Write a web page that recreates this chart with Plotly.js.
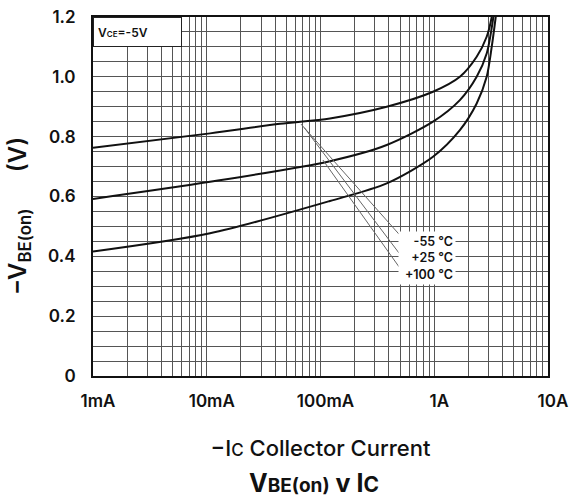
<!DOCTYPE html>
<html>
<head>
<meta charset="utf-8">
<script src="https://cdn.plot.ly/plotly-3.0.1.min.js"></script>
<style>html,body{margin:0;padding:0;background:#fff;}#chart{width:572px;height:498px;}</style>
</head>
<body>
<div id="chart"></div>
<script>
// Collector current (A) and -VBE(on) (V) for each temperature
const icM55 = [0.001, 0.0107, 0.044, 0.121, 0.382, 0.975, 1.68, 2.36, 2.89, 3.2, 3.4];
const vbeM55 = [0.763, 0.811, 0.843, 0.861, 0.900, 0.950, 1.000, 1.067, 1.134, 1.200, 1.28];
const icP25 = [0.001, 0.0107, 0.121, 0.382, 0.975, 1.68, 2.36, 2.89, 3.31, 3.5];
const vbeP25 = [0.592, 0.649, 0.718, 0.772, 0.850, 0.922, 1.000, 1.078, 1.200, 1.28];
const icP100 = [0.001, 0.0107, 0.121, 0.382, 0.975, 1.68, 2.36, 2.89, 3.2, 3.47, 3.65];
const vbeP100 = [0.416, 0.477, 0.585, 0.644, 0.733, 0.822, 0.911, 1.000, 1.100, 1.200, 1.27];

// leader lines from curves to the temperature labels
const leadM55X = [0.0674, 0.49];   const leadM55Y = [0.842, 0.474];
const leadP25X = [0.072, 0.49];    const leadP25Y = [0.830, 0.411];
const leadP100X = [0.105, 0.49];   const leadP100Y = [0.722, 0.365];

const tempLabels = ["-55 °C", "+25 °C", "+100 °C"];

// axis ticks
const xDecades = [0.001, 0.01, 0.1, 1, 10];
const xDecadeLabels = ["1mA", "10mA", "100mA", "1A", "10A"];
const yMajor = [0, 0.2, 0.4, 0.6, 0.8, 1.0, 1.2];
const yMajorLabels = ["0", "0.2", "0.4", "0.6", "0.8", "1.0", "1.2"];

// grid: every 1..9 per decade, every 0.05 V
const xTickVals = [], xTickText = [];
xDecades.forEach((d, i) => {
  for (let m = 1; m <= 9; m++) {
    const v = d * m;
    if (v > 10.0001) break;
    xTickVals.push(v);
    xTickText.push(m === 1 ? xDecadeLabels[i] : "");
  }
});
const yTickVals = [], yTickText = [];
for (let k = 0; k <= 24; k++) {
  const v = +(k * 0.05).toFixed(2);
  yTickVals.push(v);
  const j = yMajor.findIndex(t => Math.abs(t - v) < 1e-6);
  yTickText.push(j >= 0 ? yMajorLabels[j] : "");
}

const curveLine = {color: "#111", width: 2, shape: "spline", smoothing: 0.8};
const leadLine = {color: "#666", width: 1};
const traces = [
  {x: icM55, y: vbeM55, mode: "lines", line: curveLine, name: "-55 °C"},
  {x: icP25, y: vbeP25, mode: "lines", line: curveLine, name: "+25 °C"},
  {x: icP100, y: vbeP100, mode: "lines", line: curveLine, name: "+100 °C"},
  {x: leadM55X, y: leadM55Y, mode: "lines", line: leadLine, hoverinfo: "skip"},
  {x: leadP25X, y: leadP25Y, mode: "lines", line: leadLine, hoverinfo: "skip"},
  {x: leadP100X, y: leadP100Y, mode: "lines", line: leadLine, hoverinfo: "skip"}
];

const FONT = "Inter, 'Liberation Sans', Arial, sans-serif";
const layout = {
  width: 572, height: 498,
  margin: {l: 93, r: 24, t: 17, b: 122},
  paper_bgcolor: "#fff", plot_bgcolor: "#fff",
  showlegend: false,
  font: {family: FONT, color: "#111"},
  title: {
    text: "<b>V<span style='font-size:19px'>BE(on)</span> v I<span style='font-size:21px'>C</span></b>",
    font: {size: 25, family: FONT, color: "#111"},
    x: 0.549, xanchor: "center", y: 1 - 483 / 498, yanchor: "middle", yref: "container"
  },
  xaxis: {
    type: "log", range: [-3, 1],
    tickmode: "array", tickvals: xTickVals, ticktext: xTickText,
    ticks: "", ticklabelstandoff: 9, ticklabelshift: 5,
    tickfont: {size: 17, family: FONT, color: "#111", weight: 600},
    showgrid: true, gridcolor: "#555", gridwidth: 1,
    showline: true, linecolor: "#111", linewidth: 2, mirror: true,
    zeroline: false,
    title: {text: "−I<span style='font-size:17px'>C</span> Collector Current", font: {size: 22, family: FONT, color: "#111", weight: 500}, standoff: 30}
  },
  yaxis: {
    range: [0, 1.2],
    tickmode: "array", tickvals: yTickVals, ticktext: yTickText,
    ticks: "", ticklabelstandoff: 12,
    tickfont: {size: 17, family: FONT, color: "#111", weight: 600},
    showgrid: true, gridcolor: "#555", gridwidth: 1,
    showline: true, linecolor: "#111", linewidth: 2, mirror: true,
    zeroline: false
  },
  annotations: [
    {
      xref: "paper", yref: "paper", x: -74 / 455, y: (376 - 216) / 359,
      xanchor: "center", yanchor: "middle", textangle: -90, showarrow: false,
      text: "−V<sub>BE(on)</sub>      (V)", font: {size: 24, family: FONT, color: "#111", weight: 600}
    },
    {
      xref: "paper", yref: "paper", x: 0, y: 1, xanchor: "left", yanchor: "top",
      showarrow: false, align: "left", width: 85, height: 26, borderpad: 1,
      bgcolor: "#fff", bordercolor: "#222", borderwidth: 1,
      text: "&nbsp;V<span style='font-size:8px'>CE</span>=-5V", font: {size: 12, family: FONT, color: "#111", weight: 600}
    },
    {
      xref: "paper", yref: "paper", x: (398 - 93) / 455, y: (376 - 231) / 359,
      xanchor: "left", yanchor: "top", showarrow: false, align: "right",
      bgcolor: "#fff", borderpad: 2, width: 52,
      text: tempLabels.join("<br>"), font: {size: 12.5, family: FONT, color: "#111", weight: 600}
    }
  ]
};

Plotly.newPlot("chart", traces, layout, {staticPlot: true, displayModeBar: false});
</script>
</body>
</html>
